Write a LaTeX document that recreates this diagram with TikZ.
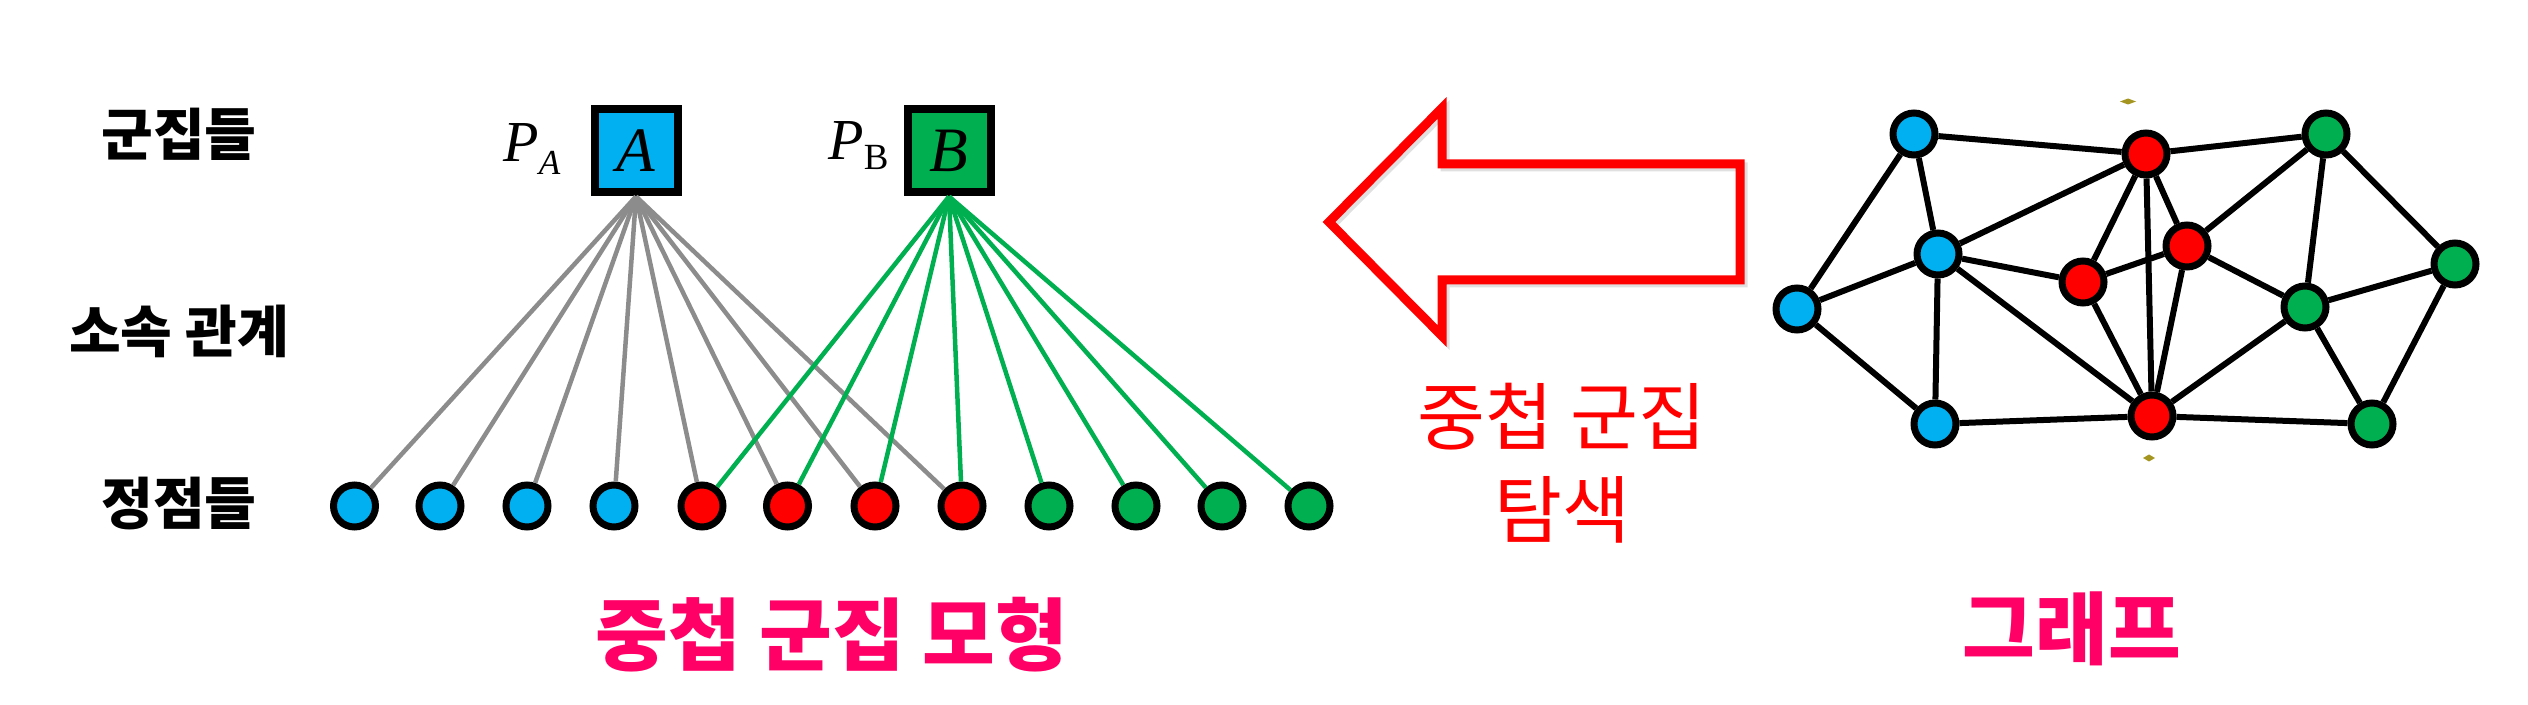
\documentclass[tikz,border=0pt]{standalone}
\usepackage{fontspec}
\setmainfont{Noto Sans CJK KR}
\newfontfamily\serif{Liberation Serif}
\usepackage{tikz}
\definecolor{vblue}{RGB}{0,176,240}
\definecolor{vred}{RGB}{255,0,0}
\definecolor{vgreen}{RGB}{0,176,80}
\definecolor{lgray}{RGB}{140,140,140}
\definecolor{titlepink}{RGB}{255,0,102}
\definecolor{markolive}{RGB}{164,148,32}

\begin{document}
\begin{tikzpicture}[
  vert/.style={circle,draw=black,line width=0.14cm,inner sep=0pt,minimum size=0.84cm},
  clus/.style={rectangle,draw=black,line width=0.16cm,inner sep=0pt,minimum size=1.66cm,font=\serif\itshape\fontsize{36}{40}\selectfont},
  plab/.style={anchor=base west,inner sep=0pt,font=\serif\fontsize{33}{36}\selectfont},
  memb/.style={line width=0.09cm},
  gedge/.style={line width=0.12cm},
  rowlab/.style={font=\bfseries\fontsize{32}{36}\selectfont},
  title/.style={text=titlepink,font=\bfseries\fontsize{45}{50}\selectfont}
]
\useasboundingbox (0,0) rectangle (50.56,14.08);

% row labels
\node[rowlab] (lclus) at (3.58,11.40) {군집들};
\node[rowlab] (lrel) at (3.58,7.46) {소속 관계};
\node[rowlab] (lvert) at (3.58,4.00) {정점들};

% clusters
\node[clus,fill=vblue] (A) at (12.72,11.06) {A};
\node[clus,fill=vgreen] (B) at (18.98,11.06) {B};
\node[plab] (pa) at (10.06,10.84) {\itshape P\raisebox{-0.22em}{\fontsize{20}{20}\selectfont A}};
\node[plab] (pb) at (16.56,10.88) {\itshape P\raisebox{-0.17em}{\upshape\fontsize{21}{21}\selectfont B}};

% vertices
\node[vert,fill=vblue] (v1) at (7.09,3.96) {};
\node[vert,fill=vblue] (v2) at (8.80,3.96) {};
\node[vert,fill=vblue] (v3) at (10.54,3.96) {};
\node[vert,fill=vblue] (v4) at (12.28,3.96) {};
\node[vert,fill=vred] (v5) at (14.04,3.96) {};
\node[vert,fill=vred] (v6) at (15.75,3.96) {};
\node[vert,fill=vred] (v7) at (17.50,3.96) {};
\node[vert,fill=vred] (v8) at (19.24,3.96) {};
\node[vert,fill=vgreen] (v9) at (20.98,3.96) {};
\node[vert,fill=vgreen] (v10) at (22.72,3.96) {};
\node[vert,fill=vgreen] (v11) at (24.44,3.96) {};
\node[vert,fill=vgreen] (v12) at (26.18,3.96) {};

% memberships
\draw[memb,lgray] (A.south) -- (v1);
\draw[memb,lgray] (A.south) -- (v2);
\draw[memb,lgray] (A.south) -- (v3);
\draw[memb,lgray] (A.south) -- (v4);
\draw[memb,lgray] (A.south) -- (v5);
\draw[memb,lgray] (A.south) -- (v6);
\draw[memb,lgray] (A.south) -- (v7);
\draw[memb,lgray] (A.south) -- (v8);
\draw[memb,vgreen] (B.south) -- (v5);
\draw[memb,vgreen] (B.south) -- (v6);
\draw[memb,vgreen] (B.south) -- (v7);
\draw[memb,vgreen] (B.south) -- (v8);
\draw[memb,vgreen] (B.south) -- (v9);
\draw[memb,vgreen] (B.south) -- (v10);
\draw[memb,vgreen] (B.south) -- (v11);
\draw[memb,vgreen] (B.south) -- (v12);

\node[title] (model) at (16.64,1.38) {중첩 군집 모형};

% big arrow
\draw[black!12,line width=0.18cm,xshift=0.06cm,yshift=-0.06cm] (26.58,9.64) -- (28.84,11.92) -- (28.84,10.80) -- (34.80,10.80) -- (34.80,8.48) -- (28.84,8.48) -- (28.84,7.36) -- cycle;
\draw[vred,line width=0.18cm] (26.58,9.64) -- (28.84,11.92) -- (28.84,10.80) -- (34.80,10.80) -- (34.80,8.48) -- (28.84,8.48) -- (28.84,7.36) -- cycle;
\node[align=center,text=vred,font=\fontsize{42}{53}\selectfont] (search) at (31.24,4.81) {중첩 군집\\탐색};

% graph
\node[vert,fill=vblue] (g1) at (38.28,11.40) {};
\node[vert,fill=vblue] (g2) at (38.76,9.00) {};
\node[vert,fill=vblue] (g3) at (35.94,7.90) {};
\node[vert,fill=vblue] (g4) at (38.70,5.60) {};
\node[vert,fill=vred] (g5) at (42.92,11.00) {};
\node[vert,fill=vred] (g6) at (43.74,9.16) {};
\node[vert,fill=vred] (g7) at (41.66,8.44) {};
\node[vert,fill=vred] (g8) at (43.04,5.76) {};
\node[vert,fill=vgreen] (g9) at (46.52,11.40) {};
\node[vert,fill=vgreen] (g10) at (49.10,8.80) {};
\node[vert,fill=vgreen] (g11) at (46.10,7.94) {};
\node[vert,fill=vgreen] (g12) at (47.44,5.60) {};

\draw[gedge] (g1) -- (g5);
\draw[gedge] (g1) -- (g2);
\draw[gedge] (g1) -- (g3);
\draw[gedge] (g5) -- (g9);
\draw[gedge] (g5) -- (g2);
\draw[gedge] (g5) -- (g7);
\draw[gedge] (g5) -- (g8);
\draw[gedge] (g5) -- (g6);
\draw[gedge] (g9) -- (g6);
\draw[gedge] (g9) -- (g11);
\draw[gedge] (g9) -- (g10);
\draw[gedge] (g2) -- (g3);
\draw[gedge] (g2) -- (g7);
\draw[gedge] (g2) -- (g4);
\draw[gedge] (g2) -- (g8);
\draw[gedge] (g7) -- (g6);
\draw[gedge] (g7) -- (g8);
\draw[gedge] (g6) -- (g8);
\draw[gedge] (g6) -- (g11);
\draw[gedge] (g11) -- (g10);
\draw[gedge] (g11) -- (g8);
\draw[gedge] (g11) -- (g12);
\draw[gedge] (g10) -- (g12);
\draw[gedge] (g3) -- (g4);
\draw[gedge] (g4) -- (g8);
\draw[gedge] (g8) -- (g12);

% markers
\fill[markolive] (42.40,12.05) -- (42.56,12.11) -- (42.72,12.05) -- (42.56,11.99) -- cycle;
\fill[markolive] (42.86,4.92) -- (42.98,4.99) -- (43.10,4.92) -- (42.98,4.85) -- cycle;

\node[title] (graph) at (41.44,1.50) {그래프};
\end{tikzpicture}
\end{document}
